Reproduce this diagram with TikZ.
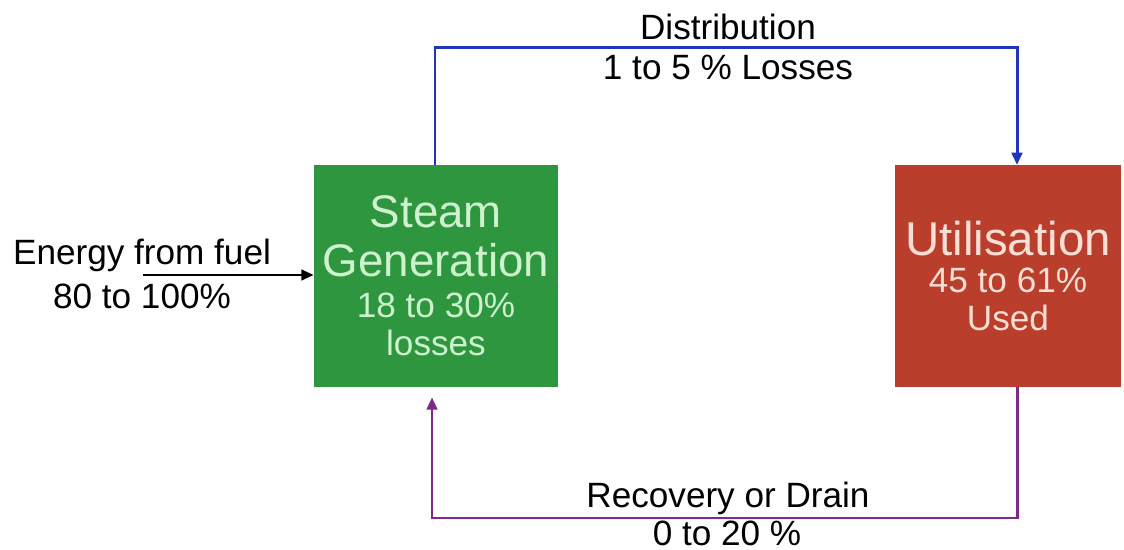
\documentclass[tikz,border=0pt]{standalone}
\usepackage{fontspec}
\setmainfont{Liberation Sans}
\usetikzlibrary{arrows.meta}
\usetikzlibrary{positioning}
\usetikzlibrary{calc}
\definecolor{gengreen}{RGB}{46,150,62}
\definecolor{genlight}{RGB}{205,242,205}
\definecolor{usered}{RGB}{186,62,44}
\definecolor{uselight}{RGB}{252,222,212}
\definecolor{distblue}{RGB}{32,52,190}
\definecolor{recpurple}{RGB}{128,40,140}
\newcommand{\bigsz}{\fontsize{26}{28}\selectfont}
\newcommand{\smallsz}{\fontsize{20}{22}\selectfont}
\tikzset{
    >={Triangle[length=7pt,width=6pt]},
    stagebox/.style={rectangle, inner sep=0pt, align=center,
        minimum height=4.44cm, font=\fontsize{20}{22}\selectfont},
    flowlabel/.style={font=\fontsize{20}{22}\selectfont, align=center},
    flow/.style={line width=1.7pt, ->},
}

\begin{document}
\begin{tikzpicture}
\useasboundingbox (0,0) rectangle (22.48,11);
% the two stages
\node[stagebox, fill=gengreen, text=genlight, minimum width=4.88cm] (steam) at (8.72,5.48)
    {\bigsz Steam\\[6pt]\bigsz Generation\\[1pt]\smallsz 18 to 30\%\\\smallsz losses};
\node[stagebox, fill=usered, text=uselight, minimum width=4.52cm] (util) at (20.16,5.48)
    {\fontsize{27}{28}\selectfont Utilisation\\[-1pt]\smallsz 45 to 61\%\\\smallsz Used};
% input
\coordinate (fuel) at (2.86,5.5);
\node[flowlabel] (fueltxt) at (2.84,5.9) {Energy from fuel};
\node[flowlabel] (fuelpct) at (2.84,5.08) {80 to 100\%};
\draw[flow, black, line width=1.5pt] (fuel) -- (fuel -| steam.west);
% distribution
\coordinate (disttop) at (8.7,10.04);
\coordinate (distend) at (20.34,7.7);
\draw[flow, distblue] (disttop |- steam.north) -- (disttop) -| (distend);
\node[flowlabel] (disttxt) at (14.56,10.46) {Distribution};
\node[flowlabel] (distpct) at (14.56,9.66) {1 to 5 \% Losses};
% recovery
\coordinate (recstart) at (20.34,3.26);
\coordinate (recbot) at (8.64,0.64);
\draw[flow, recpurple, shorten >=0.2cm] (recstart) |- (recbot) -- (recbot |- steam.south);
\node[flowlabel] (rectxt) at (14.56,1.04) {Recovery or Drain};
\node[flowlabel] (recpct) at (14.54,0.34) {0 to 20 \%};
\end{tikzpicture}
\end{document}
